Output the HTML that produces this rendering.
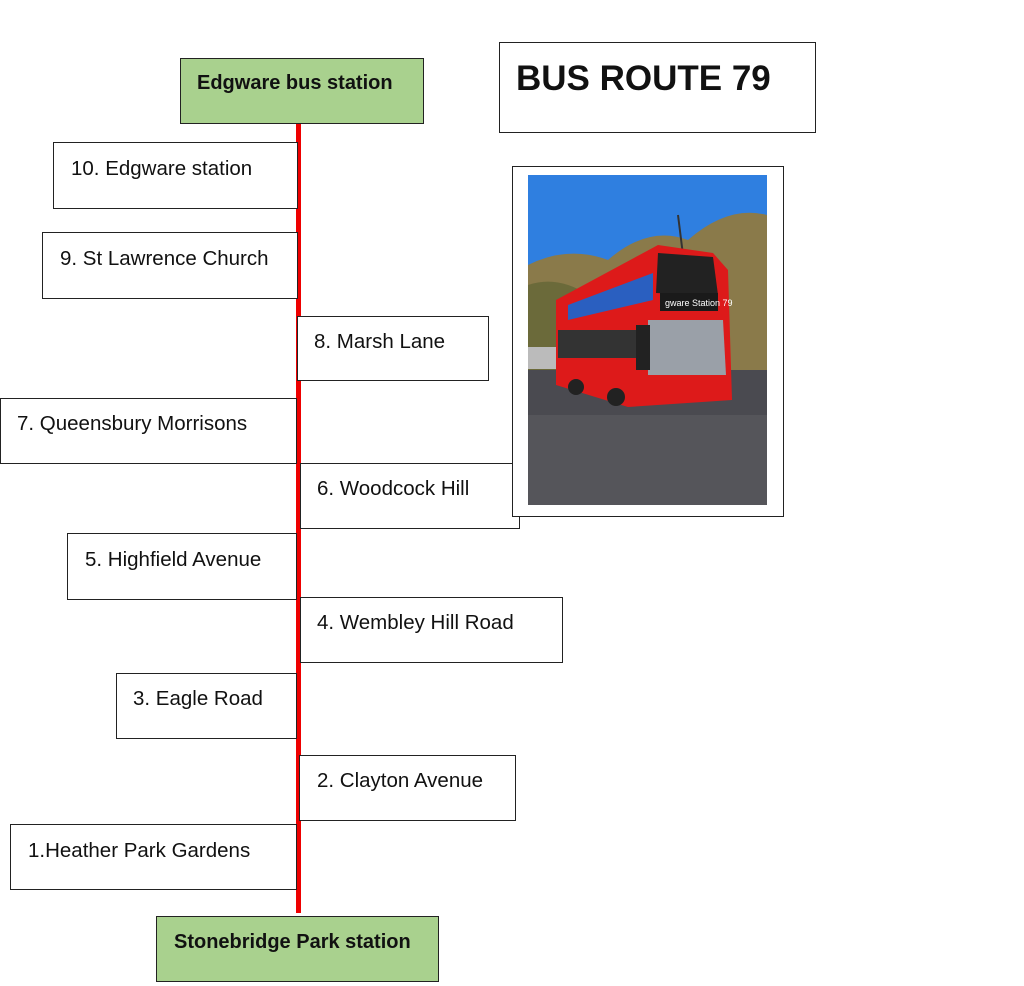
<!DOCTYPE html>
<html><head><style>
body{margin:0;width:1024px;height:986px;background:#fff;position:relative;overflow:hidden;font-family:"Liberation Sans",Arial,sans-serif;}
.b{position:absolute;border:1.5px solid #222;box-sizing:border-box;background:#fff;font-size:20.5px;color:#111;white-space:nowrap;line-height:1;}
.g{background:#a9d18e;font-weight:bold;font-size:20px;}
</style></head><body>
<div style="position:absolute;left:296px;top:124px;width:5px;height:789px;background:#ee0000"></div>
<div class="b g" style="left:180px;top:58px;width:244px;height:66px;padding:14px 0 0 16px">Edgware bus station</div>
<div class="b" style="left:499px;top:42px;width:317px;height:91px;padding:18px 0 0 16px;font-size:35px;font-weight:bold">BUS ROUTE 79</div>

<div class="b" style="left:53px;top:142px;width:245px;height:67px;padding:16px 0 0 17px">10. Edgware station</div>
<div class="b" style="left:42px;top:232px;width:256px;height:67px;padding:16px 0 0 17px">9. St Lawrence Church</div>
<div class="b" style="left:297px;top:316px;width:192px;height:65px;padding:15px 0 0 16px">8. Marsh Lane</div>
<div class="b" style="left:0px;top:398px;width:297px;height:66px;padding:15px 0 0 16px">7. Queensbury Morrisons</div>
<div class="b" style="left:300px;top:463px;width:220px;height:66px;padding:15px 0 0 16px">6. Woodcock Hill</div>
<div class="b" style="left:67px;top:533px;width:230px;height:67px;padding:16px 0 0 17px">5. Highfield Avenue</div>
<div class="b" style="left:300px;top:597px;width:263px;height:66px;padding:15px 0 0 16px">4. Wembley Hill Road</div>
<div class="b" style="left:116px;top:673px;width:181px;height:66px;padding:15px 0 0 16px">3. Eagle Road</div>
<div class="b" style="left:299px;top:755px;width:217px;height:66px;padding:15px 0 0 17px">2. Clayton Avenue</div>
<div class="b" style="left:10px;top:824px;width:287px;height:66px;padding:16px 0 0 17px">1.Heather Park Gardens</div>
<div class="b g" style="left:156px;top:916px;width:283px;height:66px;padding:15px 0 0 17px">Stonebridge Park station</div>

<div class="b" style="left:512px;top:166px;width:272px;height:351px;"></div>
<svg style="position:absolute;left:528px;top:175px" width="239" height="330" viewBox="0 0 239 330">
<rect width="239" height="330" fill="#2f7fe0"/>
<path d="M0 90 Q40 70 80 85 Q120 50 160 65 Q200 30 239 40 L239 200 L0 200Z" fill="#8a7a4a"/>
<path d="M0 110 Q30 100 60 120 L60 200 L0 200Z" fill="#6b6a3a"/>
<rect x="0" y="172" width="40" height="22" fill="#bbb"/>
<rect y="195" width="239" height="135" fill="#4a4a50"/>
<rect y="240" width="239" height="90" fill="#55555a"/>
<line x1="150" y1="40" x2="155" y2="80" stroke="#333" stroke-width="2"/>
<path d="M28 125 L130 70 L185 78 L200 95 L204 225 L100 232 L28 210Z" fill="#dd1a1a"/>
<path d="M130 78 L185 82 L190 120 L128 118Z" fill="#222"/>
<rect x="132" y="118" width="58" height="18" fill="#1a1a1a"/>
<text x="137" y="131" font-size="9" fill="#fff" font-family="Liberation Sans">gware Station 79</text>
<path d="M120 145 L195 145 L198 200 L120 200Z" fill="#9aa0a8"/>
<path d="M40 130 L125 98 L125 125 L40 145Z" fill="#2a5fc0"/>
<rect x="30" y="155" width="80" height="28" fill="#333"/>
<rect x="108" y="150" width="14" height="45" fill="#222"/>
<circle cx="48" cy="212" r="8" fill="#222"/>
<circle cx="88" cy="222" r="9" fill="#222"/>
</svg>
</body></html>
